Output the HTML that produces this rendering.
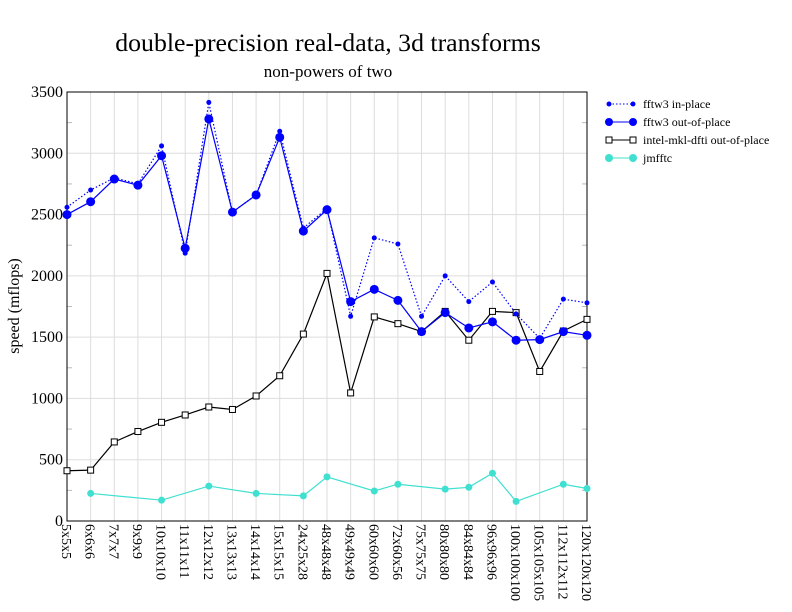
<!DOCTYPE html><html><head><style>body{margin:0;background:#fff}svg{display:block}text{font-family:"Liberation Serif",serif}</style></head><body>
<svg id="s" width="792" height="612" xmlns="http://www.w3.org/2000/svg"></svg>
<script>
const s=document.getElementById('s');let h='';
const L=67,R=587,T=92,B=521;
const X=i=>L+i*(R-L)/22, Y=v=>B-v*(B-T)/3500;
const labs=["5x5x5","6x6x6","7x7x7","9x9x9","10x10x10","11x11x11","12x12x12","13x13x13","14x14x14","15x15x15","24x25x28","48x48x48","49x49x49","60x60x60","72x60x56","75x75x75","80x80x80","84x84x84","96x96x96","100x100x100","105x105x105","112x112x112","120x120x120"];
const inp=[2560,2700,2800,2750,3060,2185,3415,2520,2660,3180,2390,2550,1670,2310,2260,1670,2000,1790,1950,1690,1490,1810,1780];
const outp=[2500,2605,2790,2740,2980,2225,3280,2520,2660,3130,2365,2540,1790,1890,1800,1545,1700,1575,1625,1475,1480,1545,1515];
const mkl=[410,415,645,730,805,865,930,910,1020,1185,1525,2020,1045,1665,1610,1545,1710,1475,1710,1700,1220,1550,1645];
const jm=[null,225,null,null,170,null,285,null,225,null,205,360,null,245,300,null,260,275,390,160,null,300,265];
for(let v=500;v<3500;v+=500)h+=`<line x1="${L}" x2="${R}" y1="${Y(v)}" y2="${Y(v)}" stroke="#ddd"/>`;
for(let i=1;i<22;i++)h+=`<line x1="${X(i)}" x2="${X(i)}" y1="${T}" y2="${B}" stroke="#ddd"/>`;
for(let v=250;v<3500;v+=500){h+=`<line x1="${L}" x2="${L+5}" y1="${Y(v)}" y2="${Y(v)}" stroke="#bbb"/><line x1="${R-5}" x2="${R}" y1="${Y(v)}" y2="${Y(v)}" stroke="#bbb"/>`;}
h+=`<rect x="${L}" y="${T}" width="${R-L}" height="${B-T}" fill="none" stroke="#000"/>`;
for(let v=0;v<=3500;v+=500)h+=`<text x="${L-4}" y="${Y(v)+5}" font-size="16" text-anchor="end">${v}</text>`;
labs.forEach((l,i)=>h+=`<text transform="translate(${X(i)-5},${B+3}) rotate(90)" font-size="14">${l}</text>`);
const pl=(d,c,dash)=>{let cur=[];d.forEach((v,i)=>{if(v==null)return;cur.push(X(i)+','+Y(v));});h+=`<polyline points="${cur.join(' ')}" fill="none" stroke="${c}" stroke-width="1.2" ${dash?'stroke-dasharray="1.5,2"':''}/>`;};
pl(mkl,'#000');pl(outp,'#00f');pl(inp,'#00f',1);pl(jm,'#40e0d0');
mkl.forEach((v,i)=>h+=`<rect x="${X(i)-3}" y="${Y(v)-3}" width="6" height="6" fill="#fff" stroke="#000"/>`);
outp.forEach((v,i)=>h+=`<circle cx="${X(i)}" cy="${Y(v)}" r="4.5" fill="#00f"/>`);
inp.forEach((v,i)=>h+=`<circle cx="${X(i)}" cy="${Y(v)}" r="2.5" fill="#00f"/>`);
jm.forEach((v,i)=>{if(v!=null)h+=`<circle cx="${X(i)}" cy="${Y(v)}" r="3.5" fill="#40e0d0"/>`});
h+=`<text x="328" y="51" font-size="25.8" text-anchor="middle">double-precision real-data, 3d transforms</text>`;
h+=`<text x="328" y="77" font-size="17" text-anchor="middle">non-powers of two</text>`;
h+=`<text transform="translate(19,306) rotate(-90)" font-size="16" text-anchor="middle">speed (mflops)</text>`;
const lg=[['fftw3 in-place','#00f','d'],['fftw3 out-of-place','#00f','b'],['intel-mkl-dfti out-of-place','#000','s'],['jmfftc','#40e0d0','c']];
lg.forEach((g,k)=>{const y=104+k*18;h+=`<line x1="609" x2="633" y1="${y}" y2="${y}" stroke="${g[1]}" ${g[2]=='d'?'stroke-dasharray="1.5,2"':''}/>`;
if(g[2]=='s')h+=`<rect x="606" y="${y-3}" width="6" height="6" fill="#fff" stroke="#000"/><rect x="630" y="${y-3}" width="6" height="6" fill="#fff" stroke="#000"/>`;
else{const r=g[2]=='d'?2.5:4;h+=`<circle cx="609" cy="${y}" r="${r}" fill="${g[1]}"/><circle cx="633" cy="${y}" r="${r}" fill="${g[1]}"/>`;}
h+=`<text x="643" y="${y+4}" font-size="12">${g[0]}</text>`;});
s.innerHTML=h;
</script></body></html>
